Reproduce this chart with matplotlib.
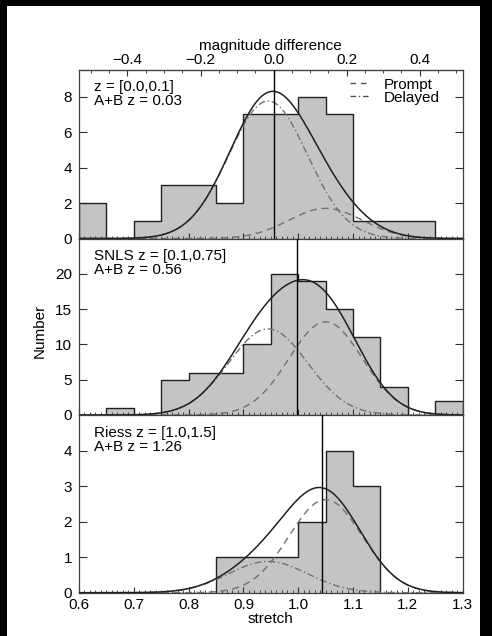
import numpy as np
import matplotlib
matplotlib.use('Agg')
import matplotlib.pyplot as plt
from matplotlib.patches import Rectangle
from matplotlib.lines import Line2D
from matplotlib.ticker import MultipleLocator, FixedLocator

plt.rcParams['font.family'] = ['Liberation Sans', 'DejaVu Sans']
plt.rcParams['font.size'] = 11

# histogram bins (stretch)
edges = np.round(np.arange(0.60, 1.301, 0.05), 2)
counts_low = [2, 0, 1, 3, 3, 2, 7, 7, 8, 7, 1, 1, 1, 0]
counts_snls = [0, 1, 0, 5, 6, 6, 10, 20, 19, 15, 11, 4, 0, 2]
counts_riess = [0, 0, 0, 0, 0, 1, 1, 1, 2, 4, 3, 0, 0, 0]

# model components (gaussian amplitude per panel, shared centre/width)
prompt_amp = [1.7, 13.2, 2.62]
delayed_amp = [7.75, 12.2, 0.88]
prompt_mu, prompt_sig = 1.05, 0.067
delayed_mu, delayed_sig = 0.945, 0.072

mean_stretch = [0.955, 0.997, 1.043]
panel_text = ['z = [0.0,0.1]\nA+B z = 0.03',
              'SNLS z = [0.1,0.75]\nA+B z = 0.56',
              'Riess z = [1.0,1.5]\nA+B z = 1.26']
ymax = [9.5, 25, 5]
yticks = [[0, 2, 4, 6, 8], [0, 5, 10, 15, 20], [0, 1, 2, 3, 4]]
mag_ticks = [-0.4, -0.2, 0.0, 0.2, 0.4]

# magnitude difference vs stretch
alpha, s0 = 1.5, 0.955

fig = plt.figure(figsize=(4.92, 6.36), dpi=100)
fig.patch.set_facecolor('black')
fig.patches.append(Rectangle((7/492, 0), 473/492, 630/636, transform=fig.transFigure,
                             facecolor='white', edgecolor='none', zorder=-10))

left, width = 79/492, 383.7/492
tops = [70, 238.5, 415]
bots = [238.5, 415, 592.7]
counts_all = [counts_low, counts_snls, counts_riess]
s = np.linspace(0.6, 1.3, 400)
axes = []
for i in range(3):
    b = 1 - bots[i]/636
    h = (bots[i] - tops[i])/636
    ax = fig.add_axes([left, b, width, h])
    axes.append(ax)
    c = counts_all[i]
    ax.stairs(c, edges, fill=True, color='#c4c4c4', zorder=1)
    ax.stairs(c, edges, color='#202020', lw=1.0, zorder=2)
    p = prompt_amp[i]*np.exp(-(s - prompt_mu)**2/(2*prompt_sig**2))
    d = delayed_amp[i]*np.exp(-(s - delayed_mu)**2/(2*delayed_sig**2))
    ax.plot(s, p, color='#707070', lw=1.0, dashes=(5, 3.5), zorder=3)
    ax.plot(s, d, color='#707070', lw=1.0, dashes=(5, 2, 1, 2), zorder=3)
    ax.plot(s, p + d, color='#202020', lw=1.1, zorder=4)
    ax.axvline(mean_stretch[i], color='black', lw=1.0, zorder=5)
    ax.set_xlim(0.6, 1.3)
    ax.set_ylim(0, ymax[i])
    ax.yaxis.set_major_locator(FixedLocator(yticks[i]))
    ax.xaxis.set_major_locator(MultipleLocator(0.1))
    ax.xaxis.set_minor_locator(MultipleLocator(0.01))
    ax.tick_params(axis='y', direction='in', length=6, width=0.8, right=True,
                   pad=5, colors='#303030', labelcolor='black')
    ax.tick_params(axis='x', which='major', direction='in', length=4, width=0.8, top=False,
                   colors='#303030', labelcolor='black')
    ax.tick_params(axis='x', which='minor', direction='in', length=2, width=0.6, top=False,
                   colors='#303030')
    for sp in ax.spines.values():
        sp.set_color('#404040')
        sp.set_linewidth(0.9)
    ax.text(0.04, 0.94, panel_text[i], transform=ax.transAxes, va='top', ha='left',
            linespacing=1.0)
    if i < 2:
        ax.tick_params(axis='x', labelbottom=False)

axes[2].set_xlabel('stretch', labelpad=0)
axes[2].tick_params(axis='x', pad=4)

top = axes[0].secondary_xaxis('top', functions=(lambda x: alpha*(x - s0),
                                                lambda m: m/alpha + s0))
top.xaxis.set_major_locator(FixedLocator(mag_ticks))
top.xaxis.set_minor_locator(MultipleLocator(0.05))
top.tick_params(which='major', direction='in', length=4, width=0.8, pad=2, colors='#303030',
                labelcolor='black')
top.tick_params(which='minor', direction='in', length=2.5, width=0.6, colors='#303030')
top.set_xlabel('magnitude difference', labelpad=2)

handles = [Line2D([], [], color='#505050', lw=1.0, dashes=(4, 3.5)),
           Line2D([], [], color='#505050', lw=1.0, dashes=(4, 2, 1, 2))]
axes[0].legend(handles, ['Prompt', 'Delayed'], loc='upper right',
               bbox_to_anchor=(0.94, 0.955), frameon=False, borderpad=0,
               borderaxespad=0, labelspacing=-0.05, handlelength=1.3,
               handletextpad=0.9)

fig.text(40/492, 1 - 331/636, 'Number', rotation=90, va='center', ha='center')

fig.savefig('out.png', dpi=100, facecolor=fig.get_facecolor())
